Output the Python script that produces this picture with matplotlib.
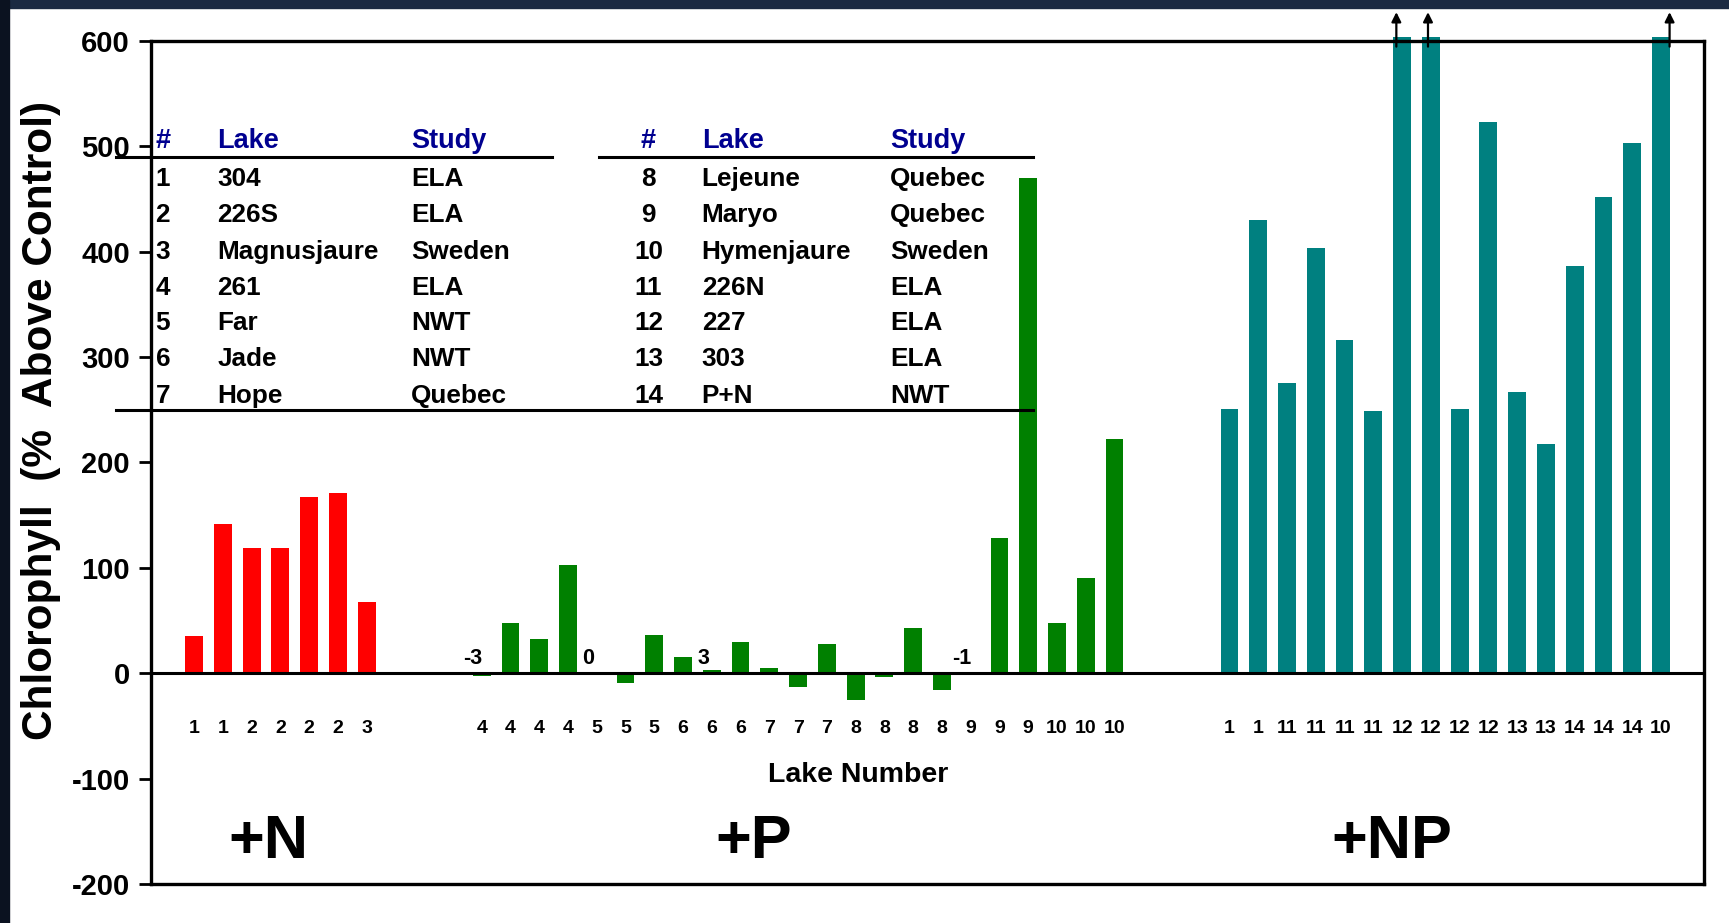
import matplotlib
matplotlib.use("Agg")
import matplotlib.pyplot as plt
import numpy as np
from matplotlib import font_manager
from matplotlib.patches import Rectangle

# font: Arial-like bold, narrow variant for the small lake numbers if present
names = {f.name for f in font_manager.fontManager.ttflist}
NARROW = 'Liberation Sans Narrow' if 'Liberation Sans Narrow' in names else 'Liberation Sans'
plt.rcParams['font.family'] = ['Liberation Sans', 'DejaVu Sans']
plt.rcParams['font.weight'] = 'bold'
plt.rcParams['axes.unicode_minus'] = False

# data
n_labels = ['1', '1', '2', '2', '2', '2', '3']
n_values = [35, 142, 119, 119, 167, 171, 68]

p_labels = ['4', '4', '4', '4', '5', '5', '5', '6', '6', '6', '7', '7', '7',
            '8', '8', '8', '8', '9', '9', '9', '10', '10', '10']
p_values = [-3, 48, 32, 103, 0, -9, 36, 15, 3, 30, 5, -13, 28,
            -25, -4, 43, -16, -1, 128, 470, 48, 90, 222]
p_shown = [0, 4, 8, 17]   # bars with their value written above

np_labels = ['1', '1', '11', '11', '11', '11', '12', '12', '12', '12',
             '13', '13', '14', '14', '14', '10']
np_values = [251, 430, 275, 404, 316, 249, 604, 604, 251, 523,
             267, 218, 386, 452, 503, 604]
np_capped = [6, 7, 15]    # off scale, drawn with an arrow
arrow_dx = [-0.2, -0.1, 0.3]

left_rows = [('1', '304', 'ELA'), ('2', '226S', 'ELA'), ('3', 'Magnusjaure', 'Sweden'),
             ('4', '261', 'ELA'), ('5', 'Far', 'NWT'), ('6', 'Jade', 'NWT'),
             ('7', 'Hope', 'Quebec')]
right_rows = [('8', 'Lejeune', 'Quebec'), ('9', 'Maryo', 'Quebec'),
              ('10', 'Hymenjaure', 'Sweden'), ('11', '226N', 'ELA'),
              ('12', '227', 'ELA'), ('13', '303', 'ELA'), ('14', 'P+N', 'NWT')]
row_y = [469, 435, 400, 366, 332, 298, 263]

RED, GREEN, TEAL, NAVY = '#ff0000', '#008000', '#008080', '#000090'

fig = plt.figure(figsize=(17.29, 9.23), dpi=100)
fig.patches.append(Rectangle((0, 1 - 8 / 923), 1, 8 / 923, transform=fig.transFigure,
                             color='#1b2a42', zorder=0))
fig.patches.append(Rectangle((0, 0), 9 / 1729, 1, transform=fig.transFigure,
                             color='#0b1220', zorder=0))
ax = fig.add_axes([0.0873, 0.0423, 0.8983, 0.9133])

n_x = np.arange(len(n_values))
p_x = 10 + np.arange(len(p_values))
np_x = 36 + np.arange(len(np_values))
w = 0.62
ax.bar(n_x, n_values, w, color=RED, zorder=2)
ax.bar(p_x, p_values, w, color=GREEN, zorder=2)
ax.bar(np_x, np_values, w, color=TEAL, zorder=2, clip_on=False)

for i in p_shown:
    ax.text(p_x[i] - 0.3, 14, str(p_values[i]), ha='center', va='center', fontsize=15.5)

for i, dx in zip(np_capped, arrow_dx):
    ax.annotate('', xy=(np_x[i] + dx, 630), xytext=(np_x[i] + dx, 592),
                arrowprops=dict(arrowstyle='-|>', lw=1.6, color='black', mutation_scale=14),
                annotation_clip=False, zorder=4)

for xs, labs in ((n_x, n_labels), (p_x, p_labels), (np_x, np_labels)):
    for x, lab in zip(xs, labs):
        ax.text(x, -52, lab, ha='center', va='center', fontsize=14, family=NARROW)

ax.axhline(0, color='black', lw=2.2, zorder=3)

# lake tables
TS, HS = 18.8, 19.5
for x, lab in ((-1.34, '#'), (0.8, 'Lake'), (7.55, 'Study')):
    ax.text(x, 505, lab, color=NAVY, fontsize=HS, ha='left', va='center')
for x, lab, ha in ((15.8, '#', 'center'), (17.65, 'Lake', 'left'), (24.2, 'Study', 'left')):
    ax.text(x, 505, lab, color=NAVY, fontsize=HS, ha=ha, va='center')
for y, (a, b, c), (d, e, f) in zip(row_y, left_rows, right_rows):
    ax.text(-1.34, y, a, fontsize=TS, ha='left', va='center')
    ax.text(0.8, y, b, fontsize=TS, ha='left', va='center')
    ax.text(7.55, y, c, fontsize=TS, ha='left', va='center')
    ax.text(15.8, y, d, fontsize=TS, ha='center', va='center')
    ax.text(17.65, y, e, fontsize=TS, ha='left', va='center')
    ax.text(24.2, y, f, fontsize=TS, ha='left', va='center')
line_kw = dict(color='black', lw=2.2, clip_on=False, zorder=5)
ax.plot([-2.72, 12.44], [490, 490], **line_kw)
ax.plot([14.08, 29.17], [490, 490], **line_kw)
ax.plot([-2.72, 29.17], [249.5, 249.5], **line_kw)

ax.text(23.08, -97, 'Lake Number', ha='center', va='center', fontsize=20.5)
for x, lab in ((2.6, '+N'), (19.47, '+P'), (41.65, '+NP')):
    ax.text(x, -161, lab, ha='center', va='center', fontsize=44, family=NARROW)

ax.set_xlim(-1.5, 52.5)
ax.set_ylim(-200, 600)
ax.set_xticks([])
ax.set_yticks(np.arange(-200, 601, 100))
ax.tick_params(axis='y', direction='out', length=9, width=2, labelsize=21, pad=6)
for s in ax.spines.values():
    s.set_linewidth(2.4)
fig.text(0.0237, 0.545, 'Chlorophyll  (%  Above Control)', rotation=90,
         ha='center', va='center', fontsize=30.5)

fig.savefig('out.png', dpi=100)
